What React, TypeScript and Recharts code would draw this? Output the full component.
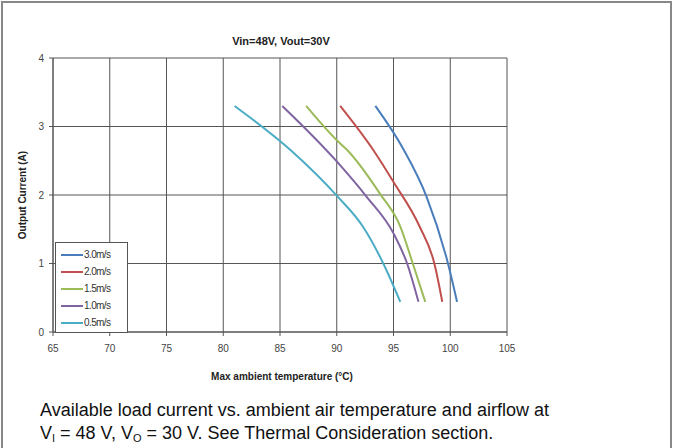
import { LineChart, Line, XAxis, YAxis, CartesianGrid } from "recharts";

type Pt = { t: number; i: number };

const xTicks = [65, 70, 75, 80, 85, 90, 95, 100, 105];
const yTicks = [0, 1, 2, 3, 4];

const flow30: Pt[] = [
  { t: 93.4, i: 3.3 },
  { t: 95.9, i: 2.66 },
  { t: 97.9, i: 1.98 },
  { t: 99.8, i: 1.0 },
  { t: 100.6, i: 0.44 },
];
const flow20: Pt[] = [
  { t: 90.3, i: 3.3 },
  { t: 93.2, i: 2.66 },
  { t: 95.0, i: 2.19 },
  { t: 97.3, i: 1.54 },
  { t: 98.6, i: 1.0 },
  { t: 99.3, i: 0.44 },
];
const flow15: Pt[] = [
  { t: 87.3, i: 3.3 },
  { t: 90.0, i: 2.8 },
  { t: 90.9, i: 2.66 },
  { t: 93.8, i: 2.02 },
  { t: 95.6, i: 1.54 },
  { t: 96.7, i: 1.0 },
  { t: 97.8, i: 0.44 },
];
const flow10: Pt[] = [
  { t: 85.2, i: 3.3 },
  { t: 90.0, i: 2.49 },
  { t: 92.6, i: 1.98 },
  { t: 95.0, i: 1.44 },
  { t: 96.2, i: 1.0 },
  { t: 97.2, i: 0.44 },
];
const flow05: Pt[] = [
  { t: 81.0, i: 3.3 },
  { t: 85.9, i: 2.66 },
  { t: 90.0, i: 1.99 },
  { t: 92.3, i: 1.54 },
  { t: 94.1, i: 1.0 },
  { t: 95.6, i: 0.44 },
];

const series = [
  { name: "3.0m/s", data: flow30, color: "#4a7ebb" },
  { name: "2.0m/s", data: flow20, color: "#c0504d" },
  { name: "1.5m/s", data: flow15, color: "#9bbb59" },
  { name: "1.0m/s", data: flow10, color: "#8064a2" },
  { name: "0.5m/s", data: flow05, color: "#4bacc6" },
];

const font = "Arial, 'Liberation Sans', sans-serif";

// legend drawn as an overlay so it does not shrink the plot area
function LegendBox() {
  return (
    <div
      style={{
        position: "absolute",
        left: 55,
        top: 242,
        width: 73,
        height: 91,
        border: "1px solid #555",
        background: "#fff",
        boxSizing: "border-box",
        padding: "3px 0 0 5px",
        fontFamily: font,
        fontSize: 10,
        color: "#333",
      }}
    >
      {series.map((s) => (
        <div key={s.name} style={{ display: "flex", alignItems: "center", height: 17 }}>
          <div style={{ width: 22, height: 2, background: s.color, marginRight: 1 }} />
          <span style={{ letterSpacing: -0.6 }}>{s.name}</span>
        </div>
      ))}
    </div>
  );
}

export default function App() {
  return (
    <div
      style={{
        position: "absolute",
        left: 0,
        top: 0,
        width: 678,
        height: 448,
        overflow: "hidden",
        background: "#fff",
      }}
    >
      <div
        style={{
          position: "absolute",
          left: 1,
          top: 1,
          width: 671,
          height: 460,
          border: "2px solid #888",
          boxSizing: "border-box",
        }}
      />
      <div
        style={{
          position: "absolute",
          left: 0,
          width: 562,
          top: 35,
          textAlign: "center",
          fontFamily: font,
          fontWeight: "bold",
          fontSize: 11,
          color: "#222",
        }}
      >
        Vin=48V, Vout=30V
      </div>
      <div style={{ position: "absolute", left: 0, top: 0 }}>
        <LineChart
          width={678}
          height={448}
          margin={{ top: 58, right: 171, bottom: 86, left: 33 }}
        >
          <CartesianGrid stroke="#555" strokeWidth={1} />
          <XAxis
            type="number"
            dataKey="t"
            domain={[65, 105]}
            ticks={xTicks}
            allowDataOverflow
            stroke="#555"
            tickSize={4}
            height={30}
            tick={{ fontSize: 10, fill: "#444", fontFamily: font }}
            tickMargin={9}
          />
          <YAxis
            type="number"
            dataKey="i"
            domain={[0, 4]}
            ticks={yTicks}
            width={20}
            stroke="#555"
            tickSize={4}
            tick={{ fontSize: 10, fill: "#444", fontFamily: font }}
            tickMargin={5}
          />
          {series.map((s) => (
            <Line
              key={s.name}
              data={s.data}
              dataKey="i"
              name={s.name}
              type="monotone"
              stroke={s.color}
              strokeWidth={2}
              dot={false}
              isAnimationActive={false}
            />
          ))}
        </LineChart>
      </div>
      <LegendBox />
      <div
        style={{
          position: "absolute",
          left: 22,
          top: 195,
          transform: "translate(-50%, -50%) rotate(-90deg)",
          whiteSpace: "nowrap",
          fontFamily: font,
          fontWeight: "bold",
          fontSize: 10,
          color: "#222",
        }}
      >
        Output Current (A)
      </div>
      <div
        style={{
          position: "absolute",
          left: 0,
          width: 564,
          top: 371,
          textAlign: "center",
          fontFamily: font,
          fontWeight: "bold",
          fontSize: 10,
          color: "#222",
        }}
      >
        Max ambient temperature (°C)
      </div>
      <div
        style={{
          position: "absolute",
          left: 40,
          top: 399,
          fontFamily: font,
          fontSize: 18,
          lineHeight: "23px",
          color: "#111",
        }}
      >
        <div>Available load current vs. ambient air temperature and airflow at</div>
        <div>
          V<span style={{ fontSize: 11, position: "relative", top: 3 }}>I</span> = 48 V, V
          <span style={{ fontSize: 11, position: "relative", top: 3 }}>O</span> = 30 V. See Thermal
          Consideration section.
        </div>
      </div>
    </div>
  );
}
